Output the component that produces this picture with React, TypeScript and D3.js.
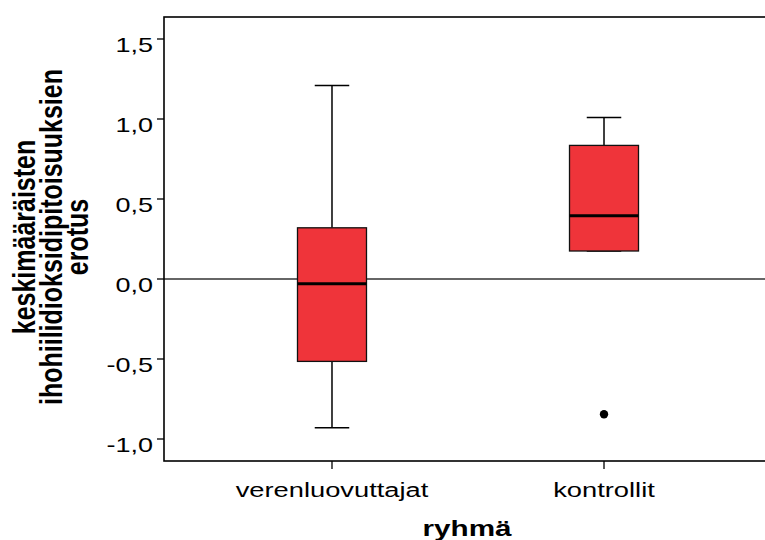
import React from "react";
import * as d3 from "d3";

// box plot summary per group
const groups = ["verenluovuttajat", "kontrollit"];
const whiskerHigh = [1.21, 1.01];
const q3 = [0.32, 0.835];
const median = [-0.03, 0.395];
const q1 = [-0.515, 0.175];
const whiskerLow = [-0.93, 0.175];
const outliers = [[], [-0.845]];
const yTicks = [-1.0, -0.5, 0.0, 0.5, 1.0, 1.5];
const yTitle = ["keskimääräisten", "ihohiilidioksidipitoisuuksien", "erotus"];

const W = 765, H = 540;
const left = 164, top = 17, bottom = 461, right = 772;
const SX = 1.4; // source image text is stretched horizontally

const fmt = (v: number) => d3.format(".1f")(v).replace(".", ",").replace("−", "-");

export default function App() {
  const y = d3.scaleLinear().domain([0, 1]).range([279, 119]);
  const x = d3.scalePoint<string>().domain(groups).range([left, right]).padding(0.6176);
  const boxW = 69;
  const capW = boxW / 2;
  const font = "Liberation Sans, Arial, sans-serif";

  return (
    <svg width={W} height={H} style={{ position: "absolute", left: 0, top: 0 }}>
      <rect width={W} height={H} fill="#fff" />
      {/* zero reference line */}
      <line x1={left} x2={right} y1={y(0)} y2={y(0)} stroke="#333" strokeWidth={1.3} />

      {groups.map((g, i) => {
        const cx = x(g)!;
        return (
          <g key={g}>
            <line x1={cx} x2={cx} y1={y(whiskerHigh[i])} y2={y(q3[i])} stroke="#000" strokeWidth={1.5} />
            <line x1={cx} x2={cx} y1={y(q1[i])} y2={y(whiskerLow[i])} stroke="#000" strokeWidth={1.5} />
            <line x1={cx - capW / 2} x2={cx + capW / 2} y1={y(whiskerHigh[i])} y2={y(whiskerHigh[i])} stroke="#000" strokeWidth={1.5} />
            <line x1={cx - capW / 2} x2={cx + capW / 2} y1={y(whiskerLow[i])} y2={y(whiskerLow[i])} stroke="#000" strokeWidth={1.5} />
            <rect x={cx - boxW / 2} y={y(q3[i])} width={boxW} height={y(q1[i]) - y(q3[i])}
              fill="#ef343a" stroke="#111" strokeWidth={1.3} />
            <line x1={cx - boxW / 2} x2={cx + boxW / 2} y1={y(median[i])} y2={y(median[i])} stroke="#000" strokeWidth={3} />
            {outliers[i].map((o, j) => (
              <circle key={j} cx={cx} cy={y(o)} r={4.2} fill="#000" />
            ))}
            <line x1={cx} x2={cx} y1={bottom} y2={bottom + 8} stroke="#000" strokeWidth={1.3} />
            <text transform={`translate(${cx},497) scale(${SX},1)`} textAnchor="middle"
              fontFamily={font} fontSize={19.5}>{g}</text>
          </g>
        );
      })}

      {/* frame */}
      <rect x={left} y={top} width={right - left} height={bottom - top} fill="none" stroke="#000" strokeWidth={1.6} />

      {yTicks.map((t) => (
        <g key={t}>
          <line x1={left - 7} x2={left} y1={y(t)} y2={y(t)} stroke="#000" strokeWidth={1.3} />
          <text transform={`translate(153,${y(t) + 12.5}) scale(1.35,1)`} textAnchor="end"
            fontFamily={font} fontSize={20}>{fmt(t)}</text>
        </g>
      ))}

      <text transform={`translate(467,536) scale(1.35,1)`} textAnchor="middle"
        fontFamily={font} fontSize={22} fontWeight="bold">ryhmä</text>

      {yTitle.map((s, i) => (
        <text key={s} transform={`translate(${35 + i * 26.5},237) scale(1.25,1) rotate(-90)`} textAnchor="middle"
          fontFamily={font} fontSize={25} fontWeight="bold">{s}</text>
      ))}
    </svg>
  );
}
